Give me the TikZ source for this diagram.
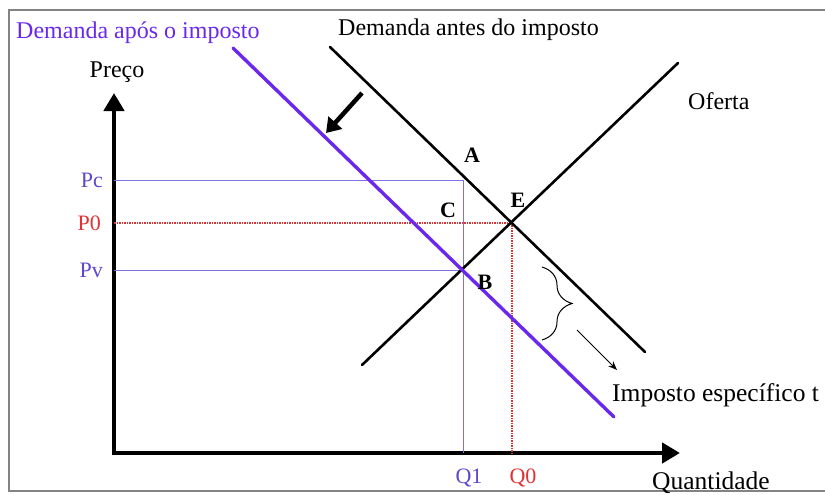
\documentclass[tikz,border=0pt]{standalone}
\usepackage{fontspec}
\setmainfont{Liberation Serif}
\usetikzlibrary{arrows.meta, decorations.pathreplacing, positioning}
\definecolor{taxpurple}{RGB}{105, 40, 235}
\definecolor{guideblue}{RGB}{125, 115, 230}
\definecolor{labelblue}{RGB}{95, 70, 205}
\definecolor{guidered}{RGB}{225, 50, 50}
\definecolor{framegray}{RGB}{90, 90, 90}
\tikzstyle{axisline} = [line width=4.5pt, -{Triangle[length=18pt,width=20pt]}]
\tikzstyle{curve} = [line width=2.6pt, line cap=round]
\tikzstyle{taxcurve} = [line width=3.4pt, line cap=round, color=taxpurple]
\tikzstyle{guide} = [line width=0.9pt, color=guideblue]
\tikzstyle{dotguide} = [line width=1.2pt, color=guidered, dash pattern=on 1.5pt off 1pt]
\tikzstyle{lbl} = [inner sep=0pt, font=\fontsize{24}{28}\selectfont]
\tikzstyle{widelbl} = [inner sep=0pt, font=\fontsize{25.5}{30}\selectfont]
\tikzstyle{tick} = [inner sep=0pt, font=\fontsize{22}{26}\selectfont]
\tikzstyle{pt} = [inner sep=0pt, font=\bfseries\fontsize{22}{26}\selectfont]

\begin{document}
\begin{tikzpicture}[x=1pt, y=-1pt]
    \useasboundingbox (0,0) rectangle (825,495);
    \draw [framegray!75, line width=1.6pt] (9,10) rectangle (840,491);

    % axes
    \coordinate (origin) at (114,453);
    \coordinate (ytip) at (114,93);
    \coordinate (xtip) at (680,453);
    \draw [axisline] (114,455.25) -- (ytip);
    \draw [axisline] (111.75,453) -- (xtip);

    % key points
    \coordinate (A) at (463,180);
    \coordinate (E) at (512,223);
    \coordinate (B) at (463,270.5);
    \coordinate (pcax) at (114,180);
    \coordinate (poax) at (114,223);
    \coordinate (pvax) at (114,270.5);
    \coordinate (q1ax) at (463,453);
    \coordinate (q0ax) at (512,453);

    % guide lines
    \draw [guide] (pcax) -| (q1ax);
    \draw [guide] (pvax) -- (B);
    \draw [dotguide] (poax) -| (q0ax);

    % curves
    \coordinate (dbs) at (330,47);
    \coordinate (dbe) at (645,352);
    \coordinate (ofs) at (362,365);
    \coordinate (ofe) at (678,63);
    \coordinate (das) at (233,48);
    \coordinate (dae) at (614,417);
    \draw [curve] (dbs) -- (dbe);
    \draw [curve] (ofs) -- (ofe);
    \draw [taxcurve] (das) -- (dae);

    % shift arrow
    \coordinate (shfrom) at (362,93);
    \coordinate (shto) at (326,133);
    \draw [line width=4.5pt, -{Triangle[length=14pt,width=18pt]}] (shfrom) -- (shto);

    % tax brace and arrow
    \coordinate (brtop) at (542,267);
    \coordinate (brbot) at (542,340);
    \draw [line width=1pt, decorate, decoration={brace, amplitude=30pt}] (brtop) -- (brbot);
    \coordinate (taxfrom) at (577,330);
    \coordinate (taxto) at (617,370);
    \draw [line width=1pt, -{Stealth[length=9pt,width=7pt]}] (taxfrom) -- (taxto);

    % labels
    \node (demapos) [lbl, anchor=west, text=taxpurple] at (16,33) {Demanda após o imposto};
    \node (demantes) [lbl, anchor=west] at (338,30) {Demanda antes do imposto};
    \node (preco) [lbl] at (117,72) {Preço};
    \node (oferta) [lbl, anchor=west] at (688,101) {Oferta};
    \node (quant) [widelbl, anchor=west] at (652,483) {Quantidade};
    \node (imposto) [widelbl, anchor=west] at (612,395) {Imposto específico t};

    \node (pc) [tick, anchor=east, text=labelblue] at (103,180) {Pc};
    \node (po) [tick, anchor=east, text=guidered] at (101,223) {P0};
    \node (pv) [tick, anchor=east, text=labelblue] at (103,270) {Pv};
    \node (q1) [tick, text=labelblue] at (469,478) {Q1};
    \node (q0) [tick, text=guidered] at (523,478) {Q0};

    \node (lA) [pt] at (472,155) {A};
    \node (lE) [pt] at (518,200) {E};
    \node (lC) [pt] at (448,210) {C};
    \node (lB) [pt] at (485,282) {B};
\end{tikzpicture}
\end{document}
